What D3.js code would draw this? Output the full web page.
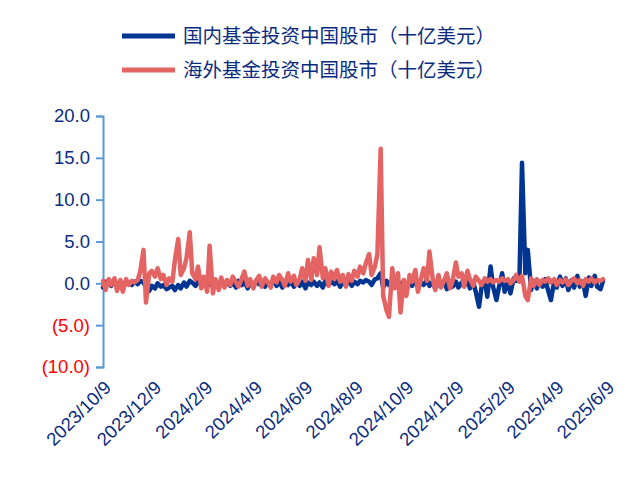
<!DOCTYPE html>
<html>
<head>
<meta charset="utf-8">
<script src="https://cdn.jsdelivr.net/npm/d3@7"></script>
<style>
body { margin: 0; background: #fff; font-family: "Liberation Sans", Arial, sans-serif; }
</style>
</head>
<body>
<div id="chart"></div>
<script>
var dates = ["2023-10-09","2023-10-12","2023-10-16","2023-10-19","2023-10-23","2023-10-26","2023-10-30","2023-11-02","2023-11-06","2023-11-09","2023-11-13","2023-11-16","2023-11-20","2023-11-23","2023-11-27","2023-11-30","2023-12-04","2023-12-07","2023-12-11","2023-12-14","2023-12-18","2023-12-21","2023-12-25","2023-12-28",
"2024-01-01","2024-01-04","2024-01-08","2024-01-11","2024-01-15","2024-01-18","2024-01-22","2024-01-25","2024-01-29","2024-02-01","2024-02-05","2024-02-08","2024-02-12","2024-02-15","2024-02-19","2024-02-22","2024-02-26","2024-02-29","2024-03-04","2024-03-07","2024-03-11","2024-03-14","2024-03-18","2024-03-21","2024-03-25","2024-03-28","2024-04-01","2024-04-04","2024-04-08","2024-04-11","2024-04-15","2024-04-18","2024-04-22","2024-04-25","2024-04-29","2024-05-02","2024-05-06","2024-05-09","2024-05-13","2024-05-16","2024-05-20","2024-05-23","2024-05-27","2024-05-30","2024-06-03","2024-06-06","2024-06-10","2024-06-13","2024-06-17","2024-06-20","2024-06-24","2024-06-27","2024-07-01","2024-07-04","2024-07-08","2024-07-11","2024-07-15","2024-07-18","2024-07-22","2024-07-25","2024-07-29","2024-08-01","2024-08-05","2024-08-08","2024-08-12","2024-08-15","2024-08-19","2024-08-22","2024-08-26","2024-08-29","2024-09-02","2024-09-05","2024-09-09","2024-09-12","2024-09-16","2024-09-19","2024-09-23","2024-09-26","2024-09-30","2024-10-03","2024-10-07","2024-10-10","2024-10-14","2024-10-17","2024-10-21","2024-10-24","2024-10-28","2024-10-31","2024-11-04","2024-11-07","2024-11-11","2024-11-14","2024-11-18","2024-11-21","2024-11-25","2024-11-28","2024-12-02","2024-12-05","2024-12-09","2024-12-12","2024-12-16","2024-12-19","2024-12-23","2024-12-26","2024-12-30",
"2025-01-02","2025-01-06","2025-01-09","2025-01-13","2025-01-16","2025-01-20","2025-01-23","2025-01-27","2025-01-30","2025-02-03","2025-02-06","2025-02-10","2025-02-13","2025-02-17","2025-02-20","2025-02-24","2025-02-27","2025-03-03","2025-03-06","2025-03-10","2025-03-13","2025-03-17","2025-03-20","2025-03-24","2025-03-27","2025-03-31","2025-04-03","2025-04-07","2025-04-10","2025-04-14","2025-04-17","2025-04-21","2025-04-24","2025-04-28","2025-05-01","2025-05-05","2025-05-08","2025-05-12","2025-05-15","2025-05-19","2025-05-22","2025-05-26","2025-05-29","2025-06-02","2025-06-05"];

var domestic = [-0.5,0.2,0.1,-0.3,0.3,-0.2,0.2,-0.4,0.3,0.1,-0.2,0.2,-0.1,0.3,0.1,-0.5,-0.9,-0.3,-0.6,0.0,-0.4,-0.2,-0.7,-0.5,
-0.3,-0.8,-0.2,-0.6,0.1,-0.4,0.3,0.1,-0.3,0.2,-0.2,0.1,-0.3,0.0,-0.4,0.2,-0.2,0.3,-0.4,0.2,-0.3,0.1,-0.5,0.3,-0.2,0.2,-0.6,0.1,-0.3,0.2,-0.1,0.3,-0.4,0.1,-0.2,0.4,-0.3,0.2,-0.5,0.1,-0.2,0.3,-0.4,0.1,-0.3,0.2,-0.6,0.1,-0.2,0.2,-0.3,0.1,-0.5,0.3,-0.2,0.2,-0.1,0.3,-0.4,0.1,-0.2,0.3,-0.3,0.2,-0.1,0.3,0.1,0.4,0.2,-0.2,0.5,0.6,1.2,-0.5,0.3,-0.2,0.4,-0.3,0.2,-0.4,0.3,-0.2,0.2,-0.3,0.4,-0.5,0.1,-0.2,0.4,-0.3,0.2,-0.6,0.1,-0.3,0.3,-0.7,0.1,-0.4,0.2,-0.5,0.1,-0.3,0.4,-0.6,0.2,
-1.0,-2.8,-0.5,0.3,-1.6,2.0,-0.4,-2.0,-0.5,1.2,-1.0,0.2,-1.2,0.6,0.3,1.0,14.4,1.2,4.0,-0.8,0.3,-0.6,0.2,-0.4,0.5,-1.0,-2.0,0.3,-0.5,0.8,-0.3,0.6,-0.8,0.4,-0.5,0.9,-0.4,0.2,-1.5,0.7,-0.3,0.9,-0.4,-0.7,0.3];

var overseas = [0.3,-0.8,0.5,-0.2,0.6,-0.9,0.4,-1.0,0.5,-0.2,0.3,0.1,0.4,1.4,4.0,-2.3,1.2,1.5,0.8,1.8,0.5,1.0,-0.2,0.6,
0.2,2.8,5.3,1.0,1.8,3.0,6.1,1.2,0.5,2.0,-0.6,0.8,-1.0,4.5,-1.2,0.5,-0.8,0.7,-0.5,0.4,-0.2,0.8,0.1,-0.4,0.6,1.4,-0.3,0.5,-0.6,0.3,0.9,-0.4,0.6,0.2,-0.5,0.8,0.1,1.0,0.4,-0.3,1.2,0.2,0.9,-0.2,0.5,1.8,0.3,2.8,0.4,3.0,1.0,4.3,0.6,1.8,-0.3,1.4,0.5,1.6,0.2,1.0,-0.4,1.1,0.3,1.5,0.8,2.0,1.2,2.4,3.5,1.0,2.0,3.5,16.1,-1.5,-3.2,-4.0,1.8,-0.6,1.2,-3.5,0.4,-1.5,1.0,0.2,1.6,-1.0,0.6,1.8,0.3,3.8,0.5,-0.8,1.0,-0.5,0.4,1.2,-0.6,0.3,2.5,0.8,1.2,-0.4,1.5,0.5,-0.3,
0.8,0.3,-0.2,0.6,0.2,0.5,0.1,0.4,0.2,0.6,0.3,0.5,0.0,0.4,1.0,0.2,0.9,-1.5,-2.0,0.6,-0.3,0.5,-0.2,0.4,0.2,0.6,0.1,0.5,-0.2,0.4,0.1,0.5,-0.2,0.3,0.6,0.0,0.4,-0.3,0.5,0.2,0.6,0.1,0.4,0.3,0.5];

var seriesNames = ["国内基金投资中国股市（十亿美元）", "海外基金投资中国股市（十亿美元）"];
var seriesColors = ["#003591", "#E46464"];
var yTicks = [-10, -5, 0, 5, 10, 15, 20];
var xTickLabels = ["2023/10/9","2023/12/9","2024/2/9","2024/4/9","2024/6/9","2024/8/9","2024/10/9","2024/12/9","2025/2/9","2025/4/9","2025/6/9"];

var width = 634, height = 488;
var textColor = "#0B2C7E";
var parse = d3.timeParse("%Y-%m-%d");
var parseTick = d3.timeParse("%Y/%m/%d");
var dd = dates.map(parse);

var svg = d3.select("#chart").append("svg")
    .attr("width", width).attr("height", height);

var x = d3.scaleTime()
    .domain([dd[0], dd[dd.length - 1]])
    .range([103, 603]);

var y = d3.scaleLinear().domain([-10, 20]).range([367, 116]);

// y axis
var yAxis = svg.append("g")
    .attr("transform", "translate(103,0)")
    .call(d3.axisLeft(y).tickValues(yTicks).tickSize(7).tickPadding(6)
        .tickFormat(function (d) { return d < 0 ? "(" + d3.format(".1f")(-d) + ")" : d3.format(".1f")(d); }));
yAxis.select(".domain").attr("stroke", "#5B9BD5").attr("stroke-width", 2);
yAxis.selectAll(".tick line").attr("stroke", "#5B9BD5").attr("stroke-width", 2);
yAxis.selectAll(".tick text")
    .attr("font-size", 18.5).attr("font-family", "Liberation Sans, Arial, sans-serif")
    .attr("fill", function (d) { return d < 0 ? "#FF0000" : textColor; });

// x axis labels
var xAxis = svg.append("g")
    .attr("transform", "translate(0,372)")
    .call(d3.axisBottom(x).tickValues(xTickLabels.map(parseTick)).tickSize(0)
        .tickFormat(function (d, i) { return xTickLabels[i]; }));
xAxis.select(".domain").remove();
xAxis.selectAll(".tick text")
    .attr("font-size", 18.5).attr("font-family", "Liberation Sans, Arial, sans-serif")
    .attr("fill", textColor)
    .attr("text-anchor", "end")
    .attr("dy", "0.35em")
    .attr("transform", "translate(2,10) rotate(-45)");

// lines
var seriesData = [domestic, overseas];
var line = d3.line()
    .x(function (d, i) { return x(dd[i]); })
    .y(function (d) { return y(d); });

seriesData.forEach(function (vals, k) {
    svg.append("path")
        .datum(vals)
        .attr("fill", "none")
        .attr("stroke", seriesColors[k])
        .attr("stroke-width", 4.5)
        .attr("stroke-linejoin", "round")
        .attr("stroke-linecap", "round")
        .attr("d", line);
});

// legend
var legend = svg.append("g");
seriesNames.forEach(function (name, k) {
    var ly = 36 + k * 34;
    legend.append("line")
        .attr("x1", 122).attr("x2", 175).attr("y1", ly).attr("y2", ly)
        .attr("stroke", seriesColors[k]).attr("stroke-width", 5);
    legend.append("text")
        .attr("x", 183).attr("y", ly).attr("dy", "0.35em")
        .attr("font-size", 19.5)
        .attr("font-family", "Noto Sans CJK SC, sans-serif")
        .attr("fill", textColor)
        .text(name);
});
</script>
</body>
</html>
